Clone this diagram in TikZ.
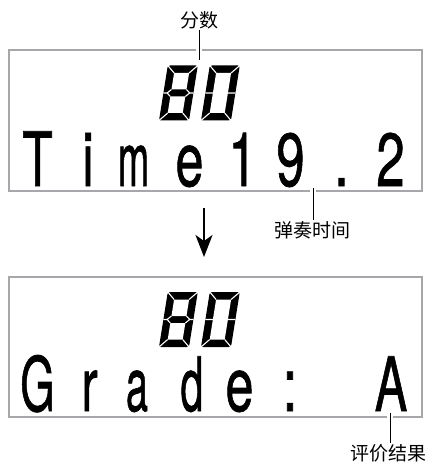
\documentclass[tikz,border=0pt]{standalone}
\usepackage{fontspec}
\usepackage{graphicx}
\setmainfont{TeX Gyre Heros}
\newfontfamily\lcdfont{TeX Gyre Heros}[FakeBold=1.1]
\newfontfamily\cjk{Noto Sans CJK SC}
\usetikzlibrary{arrows.meta}
\definecolor{lcdgray}{RGB}{165,167,170}
\newcommand\lcdsx[2]{\scalebox{#1}[1]{#2}}
\newcommand\segeight[2]{%
  \begin{scope}[shift={(#1,#2)},yscale=-1,xslant=-0.16]
    \fill[black,rounded corners=2pt] (0,0) rectangle (30,55);
    \fill[white] (7.5,7.5) rectangle (22.5,24);
    \fill[white] (7.5,31) rectangle (22.5,47.5);
    \draw[white,line width=1.1pt] (0,0)--(7.5,7.5) (30,0)--(22.5,7.5) (0,55)--(7.5,47.5) (30,55)--(22.5,47.5)
      (0,27.5)--(3.7,27.5)--(7.5,31) (3.7,27.5)--(7.5,24)
      (30,27.5)--(26.3,27.5)--(22.5,31) (26.3,27.5)--(22.5,24);
  \end{scope}}
\newcommand\segzero[2]{%
  \begin{scope}[shift={(#1,#2)},yscale=-1,xslant=-0.16]
    \fill[black,rounded corners=2pt] (0,0) rectangle (30,55);
    \fill[white] (7.5,7.5) rectangle (22.5,47.5);
    \draw[white,line width=1.1pt] (0,0)--(7.5,7.5) (30,0)--(22.5,7.5) (0,55)--(7.5,47.5) (30,55)--(22.5,47.5)
      (0,27.5)--(7.5,27.5) (30,27.5)--(22.5,27.5);
  \end{scope}}
\begin{document}
\begin{tikzpicture}[x=1pt,y=-1pt,
  lcdch/.style={anchor=base,inner sep=0pt,font=\lcdfont\fontsize{75}{75}\selectfont},
  lbl/.style={font=\cjk\fontsize{19}{19}\selectfont,inner sep=1pt},
  lcd/.style={draw=lcdgray,line width=2.4pt,minimum width=413pt,inner sep=0pt},
  tick/.style={line width=1pt,preaction={draw=white,line width=6pt}},
]
\useasboundingbox (0,0) rectangle (425,462);
% boxes
\node[lcd,minimum height=141pt] (box1) at (215.5,120.5) {};
\node[lcd,minimum height=140pt] (box2) at (215.5,347) {};
% score digits
\segeight{159}{120.5}
\segzero{201}{120.5}
\segeight{159}{347}
\segzero{201}{347}
% top line
\node[lcdch] (c1) at (37.5,186) {\lcdsx{0.66}{T}};
\node[lcdch] (c2) at (88,186) {\lcdsx{0.7}{i}};
\node[lcdch] (c3) at (133.5,186) {\lcdsx{0.5}{m}};
\node[lcdch] (c4) at (189.5,186) {\lcdsx{0.67}{e}};
\node[lcdch] (c5) at (242.5,186) {\lcdsx{0.68}{1}};
\node[lcdch] (c6) at (290.5,186) {\lcdsx{0.68}{9}};
\node[lcdch] (c7) at (341.5,186) {\lcdsx{0.7}{.}};
\node[lcdch] (c8) at (390.5,186) {\lcdsx{0.68}{2}};
% bottom line
\node[lcdch] (g1) at (37.5,411) {\lcdsx{0.59}{G}};
\node[lcdch] (g2) at (89.5,411) {\lcdsx{0.65}{r}};
\node[lcdch] (g3) at (137,411) {\lcdsx{0.53}{a}};
\node[lcdch] (g4) at (192,411) {\lcdsx{0.55}{d}};
\node[lcdch] (g5) at (239.5,411) {\lcdsx{0.67}{e}};
\node[lcdch] (g6) at (290,411) {\lcdsx{0.7}{:}};
\node[lcdch] (g7) at (391,411) {\lcdsx{0.65}{A}};
% labels
\node[lbl] (score) at (199,20) {分数};
\node[lbl] (time) at (312,230) {弹奏时间};
\node[lbl] (grade) at (388,453) {评价结果};
\coordinate (p1) at (199,60);
\coordinate (p2) at (313,188);
\coordinate (p3) at (390,413);
\draw[tick] (score.south -| p1) -- (p1);
\draw[tick] (p2) -- (p2 |- time.north);
\draw[tick] (p3) -- (p3 |- grade.north);
% arrow
\coordinate (a1) at (204,208);
\coordinate (a2) at (204,257);
\draw[-{Stealth[length=22pt,width=17pt,inset=6pt]},line width=2pt] (a1) -- (a2);
\end{tikzpicture}
\end{document}
